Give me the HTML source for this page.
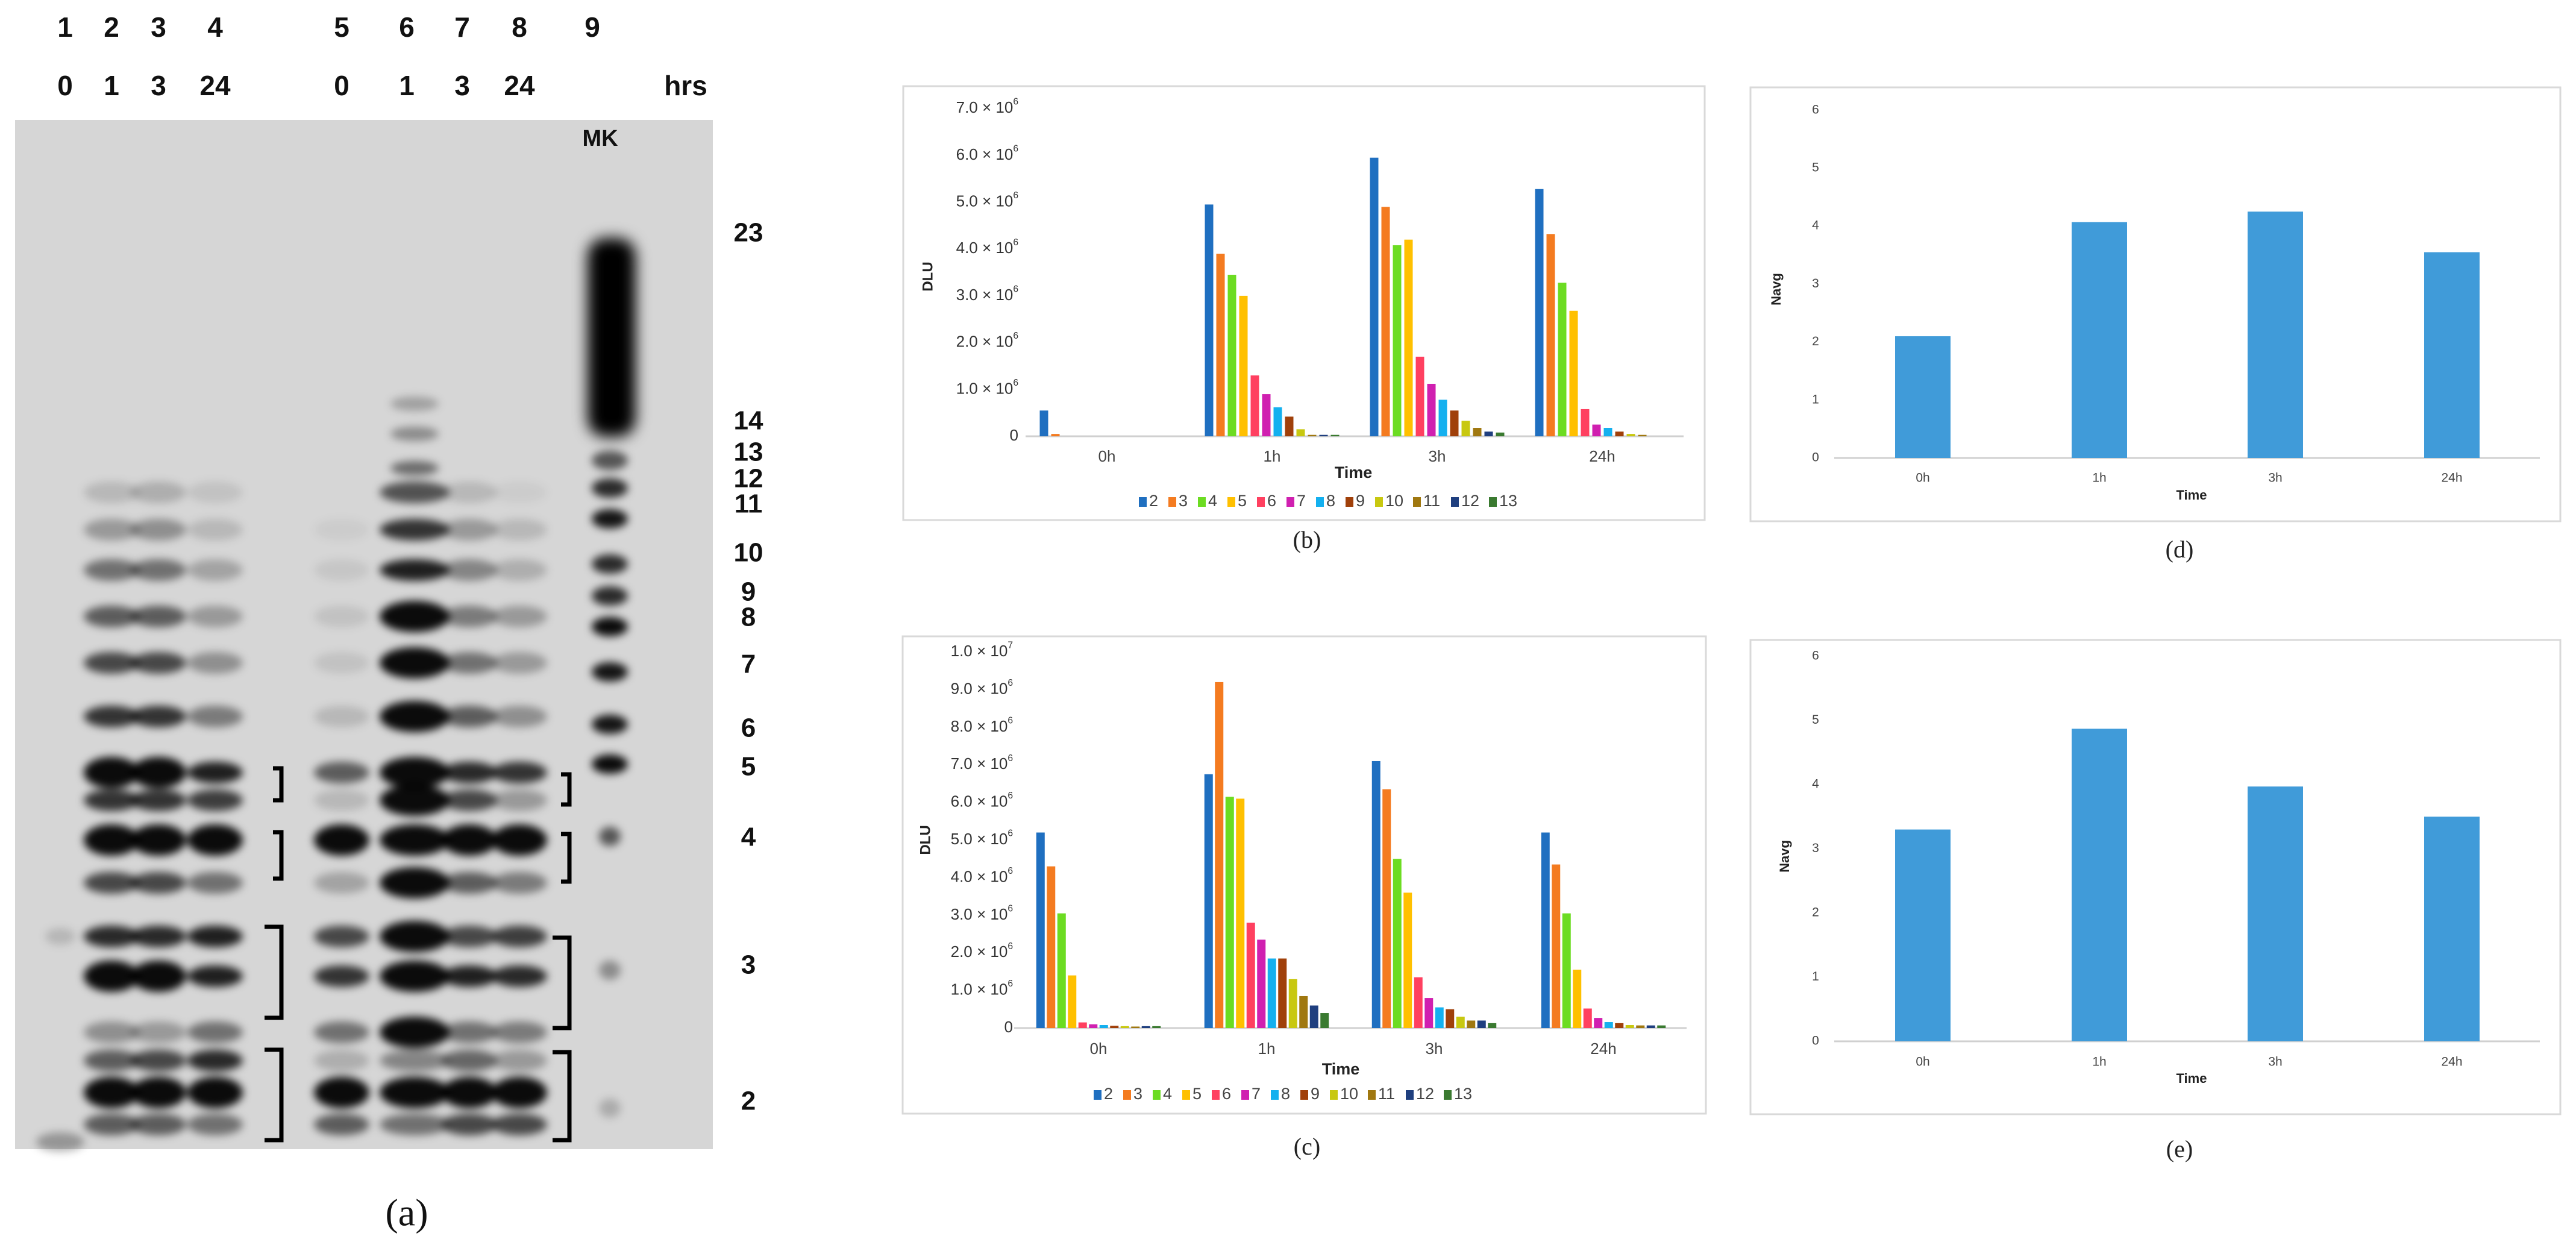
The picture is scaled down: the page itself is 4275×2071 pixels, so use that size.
<!DOCTYPE html>
<html><head><meta charset="utf-8"><style>
html,body{margin:0;padding:0;background:#fff;}
svg{display:block;font-family:"Liberation Sans",sans-serif;}
</style></head><body>
<svg id="fig" width="4275" height="2071" viewBox="0 0 4275 2071" xmlns="http://www.w3.org/2000/svg">
<defs>
<filter id="blur" x="-50%" y="-50%" width="200%" height="200%"><feGaussianBlur stdDeviation="7"/></filter>
<filter id="blur2" x="-50%" y="-50%" width="200%" height="200%"><feGaussianBlur stdDeviation="12"/></filter>
</defs>
<rect x="0" y="0" width="4275" height="2071" fill="#fff"/>
<g id="gel"></g>
<g id="chartB"></g>
<g id="chartC"></g>
<g id="chartD"></g>
<g id="chartE"></g>
</svg>
<script>
// ---------- chart data ----------
const timeCategories = ["0h","1h","3h","24h"];
const seriesNames = ["2","3","4","5","6","7","8","9","10","11","12","13"];
const seriesColors = ["#1f6fc0","#f47b20","#6cdc22","#ffc000","#ff4060","#d020b0","#14b0ef","#a0400a","#c8c810","#a07810","#1f3f7f","#3a7a30"];
// panel b (x10^6)
const b0h = [0.55,0.05,0,0,0,0,0,0,0,0,0,0];
const b1h = [4.95,3.9,3.45,3.0,1.3,0.9,0.62,0.42,0.15,0.03,0.03,0.03];
const b3h = [5.95,4.9,4.08,4.2,1.7,1.12,0.78,0.55,0.33,0.18,0.1,0.08];
const b24h = [5.28,4.32,3.28,2.68,0.58,0.25,0.18,0.1,0.05,0.03,0,0];
const bTicks = [0,1,2,3,4,5,6,7];
// panel c (x10^6)
const c0h = [5.2,4.3,3.05,1.4,0.15,0.1,0.08,0.06,0.05,0.04,0.05,0.05];
const c1h = [6.75,9.2,6.15,6.1,2.8,2.35,1.85,1.85,1.3,0.85,0.6,0.4];
const c3h = [7.1,6.35,4.5,3.6,1.35,0.8,0.55,0.5,0.3,0.2,0.2,0.13];
const c24h = [5.2,4.35,3.05,1.55,0.52,0.27,0.16,0.13,0.08,0.07,0.07,0.07];
const cTicks = [0,1,2,3,4,5,6,7,8,9,10];
// panels d, e
const dValues = [2.1,4.07,4.25,3.55];
const eValues = [3.3,4.87,3.97,3.5];
const navgTicks = [0,1,2,3,4,5,6];

const NS = "http://www.w3.org/2000/svg";
function mk(parent, tag, attrs, text){
  const el = document.createElementNS(NS, tag);
  for (const k in attrs) el.setAttribute(k, attrs[k]);
  if (text !== undefined) el.textContent = text;
  parent.appendChild(el);
  return el;
}

function sciLabel(g, x, y, v, size){
  const t = mk(g, "text", {x:x, y:y, "font-size":size, "text-anchor":"end", fill:"#333", "dominant-baseline":"middle"});
  
  
  if (v === 0){ t.textContent = "0"; return; }
  let mant = v, exp = 6;
  if (v >= 10){ mant = v/10; exp = 7; }
  const a = document.createElementNS(NS,"tspan"); a.textContent = mant.toFixed(1) + " \u00d7 10"; t.appendChild(a);
  const b = document.createElementNS(NS,"tspan"); b.textContent = String(exp);
  b.setAttribute("font-size", size*0.6); b.setAttribute("dy", -size*0.4); t.appendChild(b);
}

function groupedChart(gid, cfg, groups, ticks){
  const g = document.getElementById(gid);
  const box = mk(g,"rect",{x:cfg.bx,y:cfg.by,width:cfg.bw,height:cfg.bh,fill:"#fff",stroke:"#d9d9d9","stroke-width":3});
  
  
  const y = v => cfg.y0 - v*cfg.unit;
  ticks.forEach(tv => sciLabel(g, cfg.labelRight, y(tv), tv, 26));
  const ax = mk(g,"line",{x1:cfg.ax1,x2:cfg.ax2,y1:cfg.y0,y2:cfg.y0,stroke:"#d0d0d0","stroke-width":3});
  
  
  groups.forEach((vals, gi) => {
    const cx = cfg.cats[gi];
    vals.forEach((v, si) => {
      const x0 = cx - cfg.pitch*6 + si*cfg.pitch + (cfg.pitch - cfg.bar)/2;
      const h = v*cfg.unit;
      const r = mk(g,"rect",{x:x0,y:cfg.y0-h,width:cfg.bar,height:Math.max(h,0),fill:seriesColors[si]});
      
      
    });
    const t = mk(g,"text",{x:cx,y:cfg.catY,"font-size":26,"text-anchor":"middle",fill:"#444","dominant-baseline":"middle"}, timeCategories[gi]);
    
    
  });
  const tt = mk(g,"text",{x:cfg.timeX,y:cfg.timeY,"font-size":27,"font-weight":"bold","text-anchor":"middle",fill:"#222","dominant-baseline":"middle"},"Time");
  
  
  const yt = mk(g,"text",{x:cfg.dluX,y:cfg.dluY,"font-size":24,"font-weight":"bold","text-anchor":"middle",fill:"#222",transform:"rotate(-90 "+cfg.dluX+" "+cfg.dluY+")","dominant-baseline":"middle"},"DLU");
  
  
  let lx = cfg.legX;
  seriesNames.forEach((n, si) => {
    const sq = mk(g,"rect",{x:lx,y:cfg.legY-8,width:13,height:16,fill:seriesColors[si]});
    
    
    const lt = mk(g,"text",{x:lx+17,y:cfg.legY,"font-size":27,fill:"#444","dominant-baseline":"middle"}, n);
    
    
    lx += 17 + n.length*14 + 18;
  });
  const cap = mk(g,"text",{x:cfg.capX,y:cfg.capY,"font-size":40,"text-anchor":"middle",fill:"#222","font-family":"Liberation Serif, serif","dominant-baseline":"middle"},cfg.cap);
  
  
}

groupedChart("chartB",{bx:1499,by:143,bw:1330,bh:720,y0:724,unit:77.7,labelRight:1690,ax1:1702,ax2:2794,
  cats:[1837,2111,2385,2659],pitch:19,bar:14,catY:759,timeX:2246,timeY:786,dluX:1541,dluY:459,legX:1890,legY:833,capX:2169,capY:900,cap:"(b)"},
  [b0h,b1h,b3h,b24h], bTicks);
groupedChart("chartC",{bx:1498,by:1056,bw:1333,bh:792,y0:1706,unit:62.4,labelRight:1681,ax1:1683,ax2:2799,
  cats:[1823,2102,2380,2661],pitch:17.5,bar:14,catY:1742,timeX:2225,timeY:1776,dluX:1537,dluY:1394,legX:1815,legY:1817,capX:2169,capY:1907,cap:"(c)"},
  [c0h,c1h,c3h,c24h], cTicks);

function navgChart(gid, cfg, vals){
  const g = document.getElementById(gid);
  const box = mk(g,"rect",{x:cfg.bx,y:cfg.by,width:cfg.bw,height:cfg.bh,fill:"#fff",stroke:"#d9d9d9","stroke-width":3});
  
  
  const y = v => cfg.y0 - v*cfg.unit;
  navgTicks.forEach(tv => {
    const t = mk(g,"text",{x:3013,y:y(tv),"font-size":21,"text-anchor":"middle",fill:"#444","dominant-baseline":"middle"}, String(tv));
    
    
  });
  const ax = mk(g,"line",{x1:3044,x2:4215,y1:cfg.y0,y2:cfg.y0,stroke:"#d0d0d0","stroke-width":3});
  
  
  const cats = [3191,3484,3776,4069];
  vals.forEach((v, i) => {
    const h = v*cfg.unit;
    const r = mk(g,"rect",{x:cats[i]-46,y:cfg.y0-h,width:92,height:h,fill:"#409bd9"});
    
    
    const t = mk(g,"text",{x:cats[i],y:cfg.catY,"font-size":21,"text-anchor":"middle",fill:"#444","dominant-baseline":"middle"}, timeCategories[i]);
    
    
  });
  const tt = mk(g,"text",{x:3637,y:cfg.timeY,"font-size":22,"font-weight":"bold","text-anchor":"middle",fill:"#222","dominant-baseline":"middle"},"Time");
  
  
  const yt = mk(g,"text",{x:cfg.navX,y:cfg.navY,"font-size":22,"font-weight":"bold","text-anchor":"middle",fill:"#222",transform:"rotate(-90 "+cfg.navX+" "+cfg.navY+")","dominant-baseline":"middle"},"Navg");
  
  
  const cap = mk(g,"text",{x:3617,y:cfg.capY,"font-size":40,"text-anchor":"middle",fill:"#222","font-family":"Liberation Serif, serif","dominant-baseline":"middle"},cfg.cap);
  
  
}
navgChart("chartD",{bx:2905,by:145,bw:1344,bh:720,y0:760,unit:96.2,catY:794,timeY:823,navX:2949,navY:480,capY:916,cap:"(d)"}, dValues);
navgChart("chartE",{bx:2905,by:1062,bw:1344,bh:787,y0:1728,unit:106.5,catY:1763,timeY:1791,navX:2963,navY:1421,capY:1911,cap:"(e)"}, eValues);

// ---------- gel image ----------
const gelRows = [817,879,946,1023,1100,1189,1282,1328,1394,1465,1554,1620,1713,1760,1813,1866];
const laneX = [185,263,357,567,688,779,862];
const laneIntensity = [
  [.15,.3,.5,.6,.7,.8,1,.8,1,.7,.85,1,.35,.6,1,.6],
  [.2,.35,.5,.6,.7,.8,1,.8,1,.7,.85,1,.3,.7,1,.6],
  [.1,.15,.25,.3,.35,.45,.9,.75,1,.5,.9,.9,.5,.85,1,.5],
  [0,.05,.08,.1,.1,.15,.6,.15,1,.25,.7,.8,.5,.2,1,.6],
  [.65,.8,.9,1,1,1,1,1,1,1,1,1,1,.4,1,.5],
  [.15,.3,.4,.45,.5,.6,.85,.7,1,.6,.7,.9,.5,.55,1,.7],
  [.05,.15,.2,.3,.3,.35,.8,.3,1,.45,.75,.85,.45,.3,1,.7]
];
const mkRows = [764,810,861,936,989,1040,1115,1202,1268,1388,1610,1839];
const mkIntensity = [.6,.8,.9,.8,.8,.95,.9,.9,.95,.6,.35,.2];
(function(){
  const g = document.getElementById("gel");
  const bg = mk(g,"rect",{x:25,y:199,width:1158,height:1708,fill:"#d6d6d6"});
  
  
  const bands = mk(g,"g",{filter:"url(#blur)"});
  
  
  laneX.forEach((lx, li) => {
    gelRows.forEach((ry, ri) => {
      const v = laneIntensity[li][ri];
      if (v <= 0) return;
      const e = mk(bands,"ellipse",{cx:lx,cy:ry,rx:li===4?58:46,ry:v>0.9?26:18,fill:"#000","fill-opacity":Math.min(1,v*0.95)});
      
      
    });
  });
  [670,720,777].forEach((ry,i) => {
    const e = mk(bands,"ellipse",{cx:688,cy:ry,rx:40,ry:12,fill:"#000","fill-opacity":[0.25,0.35,0.5][i]});
    
    
  });
  const smear = mk(g,"rect",{x:975,y:395,width:80,height:330,rx:30,fill:"#000",filter:"url(#blur2)"});
  
  
  mkRows.forEach((ry,i) => {
    const e = mk(bands,"ellipse",{cx:1012,cy:ry,rx:i<9?30:18,ry:16,fill:"#000","fill-opacity":mkIntensity[i]});
    
    
  });
  const f1 = mk(bands,"ellipse",{cx:100,cy:1554,rx:25,ry:14,fill:"#000","fill-opacity":0.15});
  
  
  const f2 = mk(bands,"ellipse",{cx:100,cy:1895,rx:40,ry:16,fill:"#000","fill-opacity":0.3});
  
  
  // brackets
  const brackets = [[455,1275,1328],[455,1381,1458],[455,1538,1689],[455,1742,1892],[933,1285,1335],[933,1384,1463],[933,1556,1706],[933,1746,1892]];
  brackets.forEach(b => {
    const x = b[0], y1 = b[1], y2 = b[2], w = (y2-y1) > 100 ? 28 : 14;
    const p = mk(g,"path",{d:"M"+(x-w+12)+" "+y1+" H"+(x+12)+" V"+y2+" H"+(x-w+12),fill:"none",stroke:"#000","stroke-width":7});
    
    
  });
  const laneNums = [[108,"1","0"],[185,"2","1"],[263,"3","3"],[357,"4","24"],[567,"5","0"],[675,"6","1"],[767,"7","3"],[862,"8","24"],[983,"9",""]];
  laneNums.forEach(l => {
    const t1 = mk(g,"text",{x:l[0],y:49,"font-size":46,"font-weight":"bold","text-anchor":"middle","dominant-baseline":"middle",fill:"#111"},l[1]);
    
    
    if (l[2]) {
      const t2 = mk(g,"text",{x:l[0],y:146,"font-size":46,"font-weight":"bold","text-anchor":"middle","dominant-baseline":"middle",fill:"#111"},l[2]);
      
      
    }
  });
  const hrs = mk(g,"text",{x:1138,y:146,"font-size":46,"font-weight":"bold","text-anchor":"middle","dominant-baseline":"middle",fill:"#111"},"hrs");
  
  
  const mkl = mk(g,"text",{x:996,y:232,"font-size":38,"font-weight":"bold","text-anchor":"middle","dominant-baseline":"middle",fill:"#111"},"MK");
  
  
  const sizes = [["23",389],["14",701],["13",753],["12",797],["11",839],["10",920],["9",985],["8",1027],["7",1105],["6",1211],["5",1275],["4",1392],["3",1604],["2",1830]];
  sizes.forEach(s => {
    const t = mk(g,"text",{x:1242,y:s[1],"font-size":44,"font-weight":"bold","text-anchor":"middle","dominant-baseline":"middle",fill:"#111"},s[0]);
    
    
  });
  const cap = mk(g,"text",{x:675,y:2019,"font-size":64,"text-anchor":"middle","dominant-baseline":"middle",fill:"#111","font-family":"Liberation Serif, serif"},"(a)");
  
  
})();
</script>
</body></html>
